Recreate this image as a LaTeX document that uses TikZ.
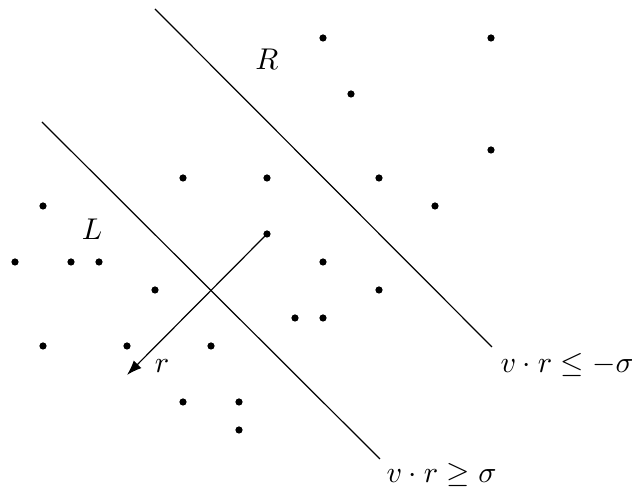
\documentclass[tikz,border=0pt]{standalone}
\usetikzlibrary{arrows.meta}
\begin{document}
\begin{tikzpicture}[x=0.3333pt,y=-0.3333pt,
  dot/.style={circle,fill=black,inner sep=0pt,minimum size=2.4pt},
  sep/.style={line width=0.4pt},
  lbl/.style={inner sep=0pt}]
\useasboundingbox (0,0) rectangle (632,489);
% points
\node[dot] (p1) at (323,38) {};
\node[dot] (p2) at (491,38) {};
\node[dot] (p3) at (351,94) {};
\node[dot] (p4) at (491,150) {};
\node[dot] (p5) at (183,178) {};
\node[dot] (p6) at (267,178) {};
\node[dot] (p7) at (379,178) {};
\node[dot] (p8) at (43,206) {};
\node[dot] (p9) at (435,206) {};
\node[dot] (p10) at (267,234) {};
\node[dot] (p11) at (15,262) {};
\node[dot] (p12) at (71,262) {};
\node[dot] (p13) at (99,262) {};
\node[dot] (p14) at (323,262) {};
\node[dot] (p15) at (155,290) {};
\node[dot] (p16) at (379,290) {};
\node[dot] (p17) at (295,318) {};
\node[dot] (p18) at (323,318) {};
\node[dot] (p19) at (43,346) {};
\node[dot] (p20) at (127,346) {};
\node[dot] (p21) at (211,346) {};
\node[dot] (p22) at (183,402) {};
\node[dot] (p23) at (239,402) {};
\node[dot] (p24) at (239,430) {};
% separating lines
\coordinate (a1) at (42,122);
\coordinate (a2) at (380,459);
\coordinate (b1) at (155,9);
\coordinate (b2) at (492,347);
\draw[sep] (a1) -- (a2);
\draw[sep] (b1) -- (b2);
% direction arrow
\coordinate (tip) at (127,375);
\draw[sep,-{Latex[length=5pt,width=3.6pt]}] (p10.center) -- (tip);
% labels
\node[lbl] (R) at (267,59) {$R$};
\node[lbl] (L) at (92,229) {$L$};
\node[lbl] (r) at (162,366) {$r$};
\node[lbl,anchor=base west] (le) at (500,373) {$v\cdot r\leq -\sigma$};
\node[lbl,anchor=base west] (ge) at (386,483) {$v\cdot r\geq \sigma$};
\end{tikzpicture}
\end{document}
